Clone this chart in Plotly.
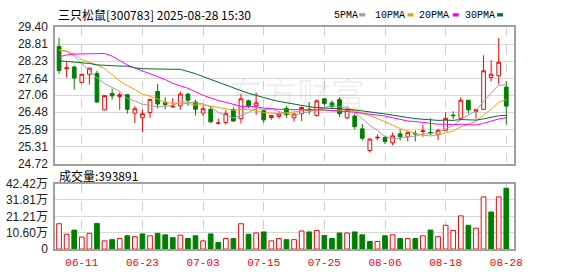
import plotly.graph_objects as go

W, H = 578, 276

dates = ["06-06","06-09","06-10","06-11","06-12","06-13","06-16","06-17","06-18","06-19","06-20",
         "06-23","06-24","06-25","06-26","06-27","06-30","07-01","07-02","07-03","07-04",
         "07-07","07-08","07-09","07-10","07-11","07-14","07-15","07-16","07-17","07-18",
         "07-21","07-22","07-23","07-24","07-25","07-28","07-29","07-30","07-31","08-01",
         "08-04","08-05","08-06","08-07","08-08","08-11","08-12","08-13","08-14","08-15",
         "08-18","08-19","08-20","08-21","08-22","08-25","08-26","08-27","08-28"]

opens = [28.73,27.97,28.03,27.50,27.78,27.81,26.56,27.12,27.02,27.08,
         26.45,26.29,26.47,27.19,26.82,26.66,26.70,27.10,26.83,26.45,
         26.58,26.10,26.13,26.56,26.26,26.87,26.70,26.53,26.30,26.34,
         26.61,26.29,26.43,26.58,26.37,26.94,26.80,26.91,26.29,26.35,
         25.91,25.17,25.60,25.62,25.43,25.74,25.64,25.76,25.82,25.79,
         25.72,25.86,26.38,26.27,26.89,26.51,26.58,27.67,27.73,27.34]
highs = [29.03,28.19,28.07,27.80,28.00,27.90,27.07,27.29,27.16,27.10,
         26.69,26.58,26.93,27.45,26.99,26.96,27.19,27.14,26.91,26.70,
         26.69,26.26,26.56,26.64,27.10,26.91,27.15,26.56,26.37,26.47,
         26.69,26.44,26.67,26.83,26.91,26.94,26.89,26.99,26.62,26.43,
         26.08,25.60,25.72,25.65,25.78,25.89,25.82,25.86,26.05,26.27,
         25.91,26.48,26.51,26.99,26.89,26.56,28.43,28.26,29.02,27.54]
lows = [27.79,27.67,27.25,27.48,27.43,26.80,26.54,26.91,26.56,26.43,
        26.11,25.80,26.29,26.61,26.58,26.64,26.56,26.70,26.37,26.34,
        26.12,26.06,26.06,26.15,26.09,26.62,26.39,26.12,26.22,26.26,
        26.29,26.16,26.18,26.40,26.33,26.70,26.60,26.32,26.24,25.89,
        25.51,25.10,25.53,25.39,25.35,25.51,25.48,25.48,25.64,25.70,
        25.53,25.83,26.24,26.21,26.43,26.26,26.56,27.54,27.43,26.06]
closes = [27.91,28.00,27.65,27.78,27.99,26.83,27.05,27.04,27.08,26.58,
          26.60,26.43,26.92,26.76,26.74,26.68,27.10,26.89,26.58,26.60,
          26.15,26.11,26.43,26.18,26.94,26.70,26.80,26.22,26.37,26.42,
          26.40,26.42,26.64,26.55,26.87,26.78,26.67,26.43,26.56,25.99,
          25.59,25.56,25.62,25.48,25.67,25.64,25.78,25.74,25.84,25.77,
          25.86,26.27,26.36,26.89,26.56,26.57,27.90,27.78,28.19,26.69]

volumes = [164000,96000,123000,78000,102000,166000,53000,61000,68000,86000,
           80000,98000,86000,102000,92000,74000,90000,68000,86000,53000,
           98000,43000,68000,68000,164000,96000,104000,111000,53000,68000,
           61000,61000,117000,111000,121000,88000,68000,104000,104000,111000,
           92000,49000,49000,86000,92000,68000,68000,68000,86000,123000,
           80000,154000,121000,215000,154000,135000,338000,240000,338000,393891]

ma5 = [28.62,28.57,28.40,28.15,27.90,27.65,27.46,27.34,27.20,26.95,
       26.87,26.75,26.72,26.66,26.69,26.71,26.84,26.83,26.80,26.77,
       26.66,26.47,26.37,26.29,26.36,26.47,26.61,26.57,26.61,26.50,
       26.44,26.37,26.45,26.49,26.58,26.65,26.70,26.66,26.66,26.49,
       26.25,26.03,25.86,25.65,25.58,25.59,25.64,25.66,25.73,25.75,
       25.80,25.90,26.02,26.23,26.39,26.53,26.86,27.14,27.40,27.42]
ma10 = [28.60,28.57,28.47,28.28,28.19,28.10,27.98,27.75,27.55,27.39,
        27.26,27.10,27.03,26.93,26.80,26.79,26.79,26.78,26.73,26.73,
        26.69,26.65,26.60,26.55,26.57,26.57,26.54,26.47,26.45,26.43,
        26.46,26.49,26.51,26.55,26.54,26.55,26.53,26.56,26.57,26.53,
        26.45,26.36,26.26,26.16,26.04,25.92,25.83,25.76,25.69,25.67,
        25.70,25.77,25.84,25.98,26.07,26.17,26.38,26.58,26.82,26.91]
ma20 = [28.38,28.44,28.47,28.48,28.49,28.50,28.49,28.40,28.26,28.10,
        27.99,27.90,27.80,27.70,27.60,27.47,27.38,27.30,27.18,27.06,
        26.97,26.88,26.82,26.74,26.68,26.68,26.67,26.62,26.59,26.58,
        26.57,26.57,26.56,26.55,26.55,26.56,26.54,26.51,26.51,26.48,
        26.45,26.43,26.39,26.35,26.29,26.23,26.18,26.16,26.13,26.10,
        26.07,26.07,26.05,26.07,26.05,26.04,26.10,26.17,26.25,26.29]
ma30 = [28.24,28.22,28.20,28.19,28.15,28.10,28.08,28.06,28.06,28.06,
        28.00,27.97,27.96,27.95,27.95,27.95,27.95,27.88,27.80,27.70,
        27.60,27.50,27.40,27.30,27.22,27.13,27.05,26.98,26.91,26.85,
        26.80,26.75,26.71,26.67,26.64,26.63,26.62,26.60,26.58,26.56,
        26.53,26.50,26.46,26.42,26.38,26.35,26.30,26.26,26.24,26.21,
        26.20,26.21,26.20,26.23,26.22,26.21,26.25,26.30,26.36,26.37]

x_ticks = ["06-11","06-23","07-03","07-15","07-25","08-06","08-18","08-28"]
price_ticks = [29.40,28.81,28.23,27.64,27.06,26.48,25.89,25.31,24.72]
vol_ticks = [0,106000,212100,318100,424200]
vol_ticktext = ["0","10.60万","21.21万","31.81万","42.42万"]

title_text = "三只松鼠[300783] 2025-08-28 15:30"
ma_names = ["5PMA","10PMA","20PMA","30PMA"]
ma_colors = ["#a0a0a0","#f0a000","#ff00ff","#00702a"]

RED = "#ff0000"
GREEN = "#008000"

fig = go.Figure()

fig.add_trace(go.Candlestick(
    x=dates, open=opens, high=highs, low=lows, close=closes,
    increasing=dict(line=dict(color=RED, width=1), fillcolor="#ffffff"),
    decreasing=dict(line=dict(color=GREEN, width=1), fillcolor=GREEN),
    whiskerwidth=0, xaxis="x", yaxis="y", showlegend=False, hoverinfo="skip"))

for name, series, col in zip(ma_names, [ma5, ma10, ma20, ma30], ma_colors):
    fig.add_trace(go.Scatter(x=dates, y=series, mode="lines", name=name,
                             line=dict(color=col, width=1), xaxis="x", yaxis="y",
                             showlegend=False, hoverinfo="skip"))

up = [True] + [closes[i] >= closes[i - 1] for i in range(1, len(closes))]
fig.add_trace(go.Bar(
    x=dates, y=volumes, xaxis="x2", yaxis="y2", width=0.62,
    marker=dict(color=["#ffffff" if u else GREEN for u in up],
                line=dict(color=[RED if u else GREEN for u in up], width=1)),
    showlegend=False, hoverinfo="skip"))

px_l, px_r = 56, 522
xdom = [px_l / W, px_r / W]
ydom1 = [1 - 165 / H, 1 - 21 / H]
ydom2 = [1 - 255 / H, 1 - 186 / H]
xr = [-0.52, len(dates)]

frame = dict(showline=True, mirror=True, linecolor="#a0a0a0", linewidth=1.5)

fig.update_layout(
    width=W, height=H, margin=dict(l=0, r=0, t=0, b=0),
    paper_bgcolor="white", plot_bgcolor="white", showlegend=False,
    xaxis=dict(domain=xdom, anchor="y", type="category", categoryarray=dates,
               range=xr, tickvals=x_ticks, showticklabels=False, ticks="",
               showgrid=True, gridcolor="#cfcfcf", griddash="dash", gridwidth=1,
               rangeslider=dict(visible=False), fixedrange=True, **frame),
    yaxis=dict(domain=ydom1, anchor="x", range=[price_ticks[-1], price_ticks[0]],
               tickvals=price_ticks, ticktext=[f"{v:.2f}" for v in price_ticks],
               showgrid=True, gridcolor="#d8d8d8", zeroline=False, ticks="",
               ticklabelstandoff=3,
               tickfont=dict(family="Liberation Sans", size=12, color="#222222"), **frame),
    xaxis2=dict(domain=xdom, anchor="y2", type="category", categoryarray=dates,
                range=xr, tickvals=x_ticks, ticks="", ticklabelstandoff=2,
                showgrid=True, gridcolor="#cfcfcf", griddash="dash", gridwidth=1,
                tickfont=dict(family="Liberation Mono", size=11, color=RED),
                fixedrange=True, **frame),
    yaxis2=dict(domain=ydom2, anchor="x2", range=[0, vol_ticks[-1]],
                tickvals=vol_ticks, ticktext=vol_ticktext, ticks="",
                showgrid=True, gridcolor="#d8d8d8", zeroline=False,
                ticklabelstandoff=3,
                tickfont=dict(family="Liberation Sans, Noto Sans CJK SC", size=12, color="#222222"),
                **frame),
)

annotations = [
    dict(x=57 / W, y=1 - 8 / H, xref="paper", yref="paper", xanchor="left", yanchor="middle",
         text=title_text, showarrow=False,
         font=dict(family="Noto Sans CJK SC", size=12, color="#000000")),
    dict(x=58 / W, y=1 - 177 / H, xref="paper", yref="paper", xanchor="left", yanchor="middle",
         text=f"成交量:{volumes[-1]}", showarrow=False,
         font=dict(family="Noto Sans CJK SC", size=12, color="#000000")),
    dict(x=302 / W, y=1 - 90 / H, xref="paper", yref="paper", xanchor="center", yanchor="middle",
         text="东方财富", showarrow=False,
         font=dict(family="Noto Sans CJK SC", size=34, color="rgba(0,0,0,0.07)")),
]
legend_text_x = [337, 379, 424, 470]
legend_mark_x = [365, 414, 460, 505]
shapes = []
for name, col, tx, mx in zip(ma_names, ma_colors, legend_text_x, legend_mark_x):
    annotations.append(dict(x=tx / W, y=1 - 8.5 / H, xref="paper", yref="paper",
                            xanchor="left", yanchor="middle", text=name, showarrow=False,
                            font=dict(family="Liberation Mono", size=10, color="#000000")))
    shapes.append(dict(type="rect", xref="paper", yref="paper",
                       x0=mx / W, x1=(mx + 6) / W, y0=1 - 10 / H, y1=1 - 6.5 / H,
                       fillcolor=col, line=dict(width=0)))

fig.update_layout(annotations=annotations, shapes=shapes)

fig.write_html("out.html")
